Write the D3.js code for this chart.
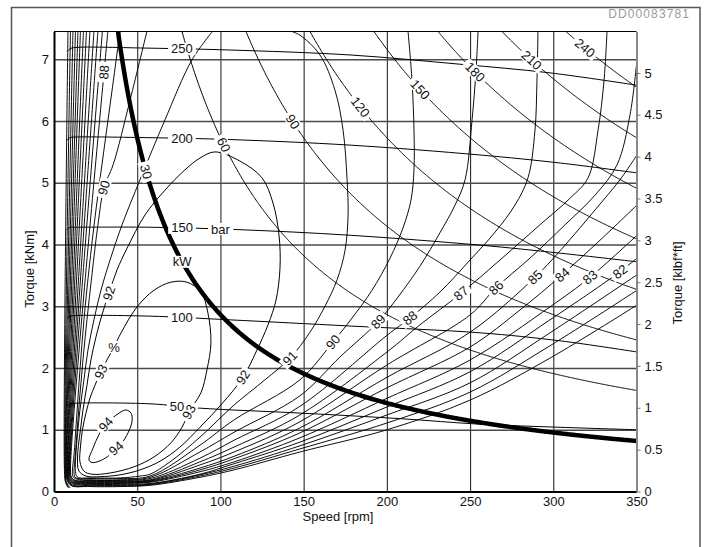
<!DOCTYPE html>
<html>
<head>
<meta charset="utf-8">
<script src="https://cdn.jsdelivr.net/npm/d3@7"></script>
<style>
  html, body { margin: 0; padding: 0; background: #fff; }
  svg { display: block; font-family: "Liberation Sans", Arial, Helvetica, sans-serif; }
</style>
</head>
<body>
<svg id="chart" width="706" height="547"></svg>
<script>
// ---- axis values ----
const speedTicks = [0, 50, 100, 150, 200, 250, 300, 350];          // rpm
const torqueTicks = [0, 1, 2, 3, 4, 5, 6, 7];                       // kNm
const torqueImpTicks = [0, 0.5, 1, 1.5, 2, 2.5, 3, 3.5, 4, 4.5, 5]; // klbf*ft
const KNM_PER_KLBFFT = 1.35582;

// ---- output power (kW) iso-lines and the speed where each is labelled ----
const powerLevels = [30, 60, 90, 120, 150, 180, 210, 240];
const powerLabelSpeed = [55.3, 102, 143.5, 184, 220, 253, 287, 319];

// ---- pressure (bar) lines, [rpm, kNm] ----
const bar250 = [[7.8,7.12],[9.6,7.17],[12.6,7.19],[57.7,7.18],[105.8,7.15],[177.9,7.07],[244.0,6.92],[298.0,6.78],[350.3,6.58]];
const bar200 = [[7.8,5.69],[9.6,5.73],[12.6,5.74],[57.7,5.73],[105.8,5.70],[177.9,5.61],[256.0,5.45],[304.1,5.32],[350.3,5.16]];
const bar150 = [[7.8,4.24],[9.6,4.28],[12.6,4.28],[57.7,4.28],[111.8,4.24],[177.9,4.15],[256.0,3.99],[304.1,3.86],[350.3,3.72]];
const bar100 = [[7.8,2.81],[9.6,2.84],[12.6,2.85],[57.7,2.84],[105.8,2.78],[177.9,2.68],[256.0,2.57],[304.1,2.44],[350.3,2.26]];
const bar50  = [[7.8,1.38],[9.6,1.42],[12.6,1.43],[57.7,1.42],[87.7,1.35],[147.8,1.27],[207.9,1.18],[256.0,1.09],[304.1,1.04],[350.3,1.00]];

// ---- overall efficiency (%) contours, [rpm, kNm] ----
const eta76 = [[8.4,7.46],[6.3,0.32],[6.9,0.15],[8.4,0.065]];
const eta77 = [[9.9,7.46],[6.6,0.32],[7.2,0.15],[9.0,0.06]];
const eta78 = [[11.4,7.46],[6.9,0.32],[7.5,0.15],[9.6,0.06]];
const eta79 = [[12.9,7.46],[7.2,0.35],[7.8,0.19],[10.2,0.10],[21.6,0.08],[39.7,0.08],[57.7,0.10],[87.7,0.23],[108.2,0.35],[147.8,0.64],[200.1,1.00],[250.0,1.48],[298.0,2.16],[350.3,3.02]];
const eta80 = [[14.4,7.46],[7.5,0.35],[8.1,0.19],[10.8,0.09],[21.6,0.09],[39.7,0.09],[57.7,0.11],[87.7,0.25],[108.2,0.38],[147.8,0.69],[200.1,1.11],[250.0,1.61],[298.0,2.36],[350.3,3.26]];
const eta81 = [[15.9,7.46],[7.8,0.35],[8.4,0.19],[11.1,0.105],[21.6,0.10],[39.7,0.10],[57.7,0.12],[87.7,0.27],[108.2,0.41],[147.8,0.74],[200.1,1.24],[250.0,1.76],[298.0,2.57],[350.3,3.51]];
const eta82 = [[17.7,7.46],[8.1,0.35],[8.7,0.19],[11.4,0.12],[21.6,0.115],[39.7,0.115],[57.7,0.13],[87.7,0.28],[108.2,0.45],[147.8,0.80],[200.1,1.37],[250.0,1.94],[298.0,2.78],[340.1,3.56],[350.3,3.78]];
const eta83 = [[19.5,7.46],[8.4,0.35],[9.0,0.20],[11.7,0.13],[21.6,0.13],[39.7,0.13],[57.7,0.15],[87.7,0.32],[108.2,0.48],[147.8,0.87],[200.1,1.51],[250.0,2.13],[298.0,2.99],[322.1,3.47],[350.3,4.15]];
const eta84 = [[21.6,7.46],[8.7,0.35],[9.3,0.20],[12.0,0.14],[21.6,0.14],[39.7,0.14],[57.7,0.16],[87.7,0.35],[108.2,0.53],[147.8,0.95],[200.1,1.68],[250.0,2.34],[280.0,2.94],[305.3,3.51],[328.1,4.07],[350.3,4.64]];
const eta85 = [[24.0,7.46],[9.0,0.35],[9.6,0.21],[12.3,0.15],[21.6,0.15],[39.7,0.15],[57.7,0.17],[87.7,0.38],[108.2,0.57],[147.8,1.03],[200.1,1.85],[250.0,2.58],[289.0,3.47],[307.1,3.99],[325.1,4.56],[340.1,5.05],[350.3,5.45]];
const eta86 = [[26.4,7.46],[9.3,0.35],[9.9,0.22],[12.6,0.16],[21.6,0.16],[39.7,0.16],[57.7,0.18],[87.7,0.43],[108.2,0.64],[147.8,1.13],[200.1,2.05],[250.0,2.86],[265.6,3.30],[286.0,3.78],[307.1,4.32],[325.1,4.80],[338.3,5.29],[346.1,6.10],[350.3,6.99]];
const eta87 = [[29.1,7.46],[9.6,0.35],[10.2,0.23],[12.9,0.17],[21.6,0.17],[39.7,0.17],[57.7,0.19],[87.7,0.48],[108.2,0.72],[147.8,1.24],[200.1,2.26],[219.9,2.70],[244.6,3.21],[268.0,3.75],[292.0,4.32],[310.1,4.75],[320.9,5.08],[326.9,5.85],[330.5,6.66],[332.3,7.46]];
const eta88 = [[32.4,7.46],[9.9,0.35],[10.5,0.23],[13.2,0.18],[21.6,0.18],[39.7,0.18],[57.7,0.21],[87.7,0.54],[108.2,0.83],[147.8,1.38],[200.1,2.53],[213.9,2.81],[231.9,3.23],[250.0,3.75],[265.0,4.20],[277.0,4.64],[284.8,5.08],[289.0,5.85],[290.2,6.66],[290.8,7.46]];
const eta89 = [[39.7,7.46],[34.9,6.50],[30.0,5.53],[25.2,4.56],[21.0,3.59],[18.0,2.78],[15.6,1.97],[13.5,1.16],[12.0,0.59],[11.1,0.35],[11.4,0.24],[13.8,0.20],[21.6,0.19],[39.7,0.19],[57.7,0.23],[87.7,0.64],[108.2,0.96],[147.8,1.55],[171.9,2.18],[194.7,2.75],[206.7,3.15],[219.9,3.65],[231.9,4.19],[241.0,4.64],[247.0,5.05],[251.2,6.02],[253.6,6.83],[254.8,7.46]];
const eta90 = [[55.9,7.46],[45.7,6.34],[35.5,5.29],[30.0,4.92],[26.4,4.32],[22.8,3.51],[19.8,2.78],[17.4,2.13],[15.3,1.48],[13.5,0.83],[12.3,0.43],[12.0,0.32],[12.6,0.23],[14.4,0.21],[21.6,0.21],[39.7,0.21],[57.7,0.25],[87.7,0.75],[108.2,1.16],[147.8,1.81],[167.6,2.42],[179.1,2.81],[191.1,3.26],[201.9,3.78],[209.7,4.27],[214.5,4.72],[216.3,5.21],[216.3,5.85],[215.1,6.66],[212.7,7.46]];
const eta91 = [[95.5,7.46],[82.9,6.99],[66.7,6.02],[51.7,5.05],[40.9,4.32],[33.7,3.75],[28.2,3.26],[24.0,2.78],[20.4,2.29],[18.0,1.81],[15.6,1.32],[13.8,0.83],[12.9,0.48],[12.9,0.32],[13.8,0.24],[15.6,0.22],[21.6,0.22],[39.7,0.22],[51.7,0.25],[57.7,0.28],[69.7,0.48],[87.7,0.88],[108.2,1.40],[126.8,1.81],[141.8,2.16],[153.8,2.58],[162.8,3.00],[170.1,3.43],[174.9,3.91],[176.7,4.48],[176.1,5.05],[173.7,5.85],[168.8,6.50],[159.8,7.07],[147.8,7.39],[141.8,7.46]];
// closed islands
const eta92 = [[96.7,5.50],[111.8,5.35],[125.0,5.08],[131.6,4.67],[135.2,4.15],[135.8,3.62],[133.4,3.10],[128.6,2.70],[121.4,2.26],[113.6,1.85],[100.9,1.42],[87.7,1.04],[75.7,0.72],[63.7,0.49],[51.7,0.35],[39.7,0.27],[27.6,0.24],[19.2,0.25],[15.0,0.33],[14.1,0.51],[14.7,0.75],[15.9,1.00],[17.4,1.32],[19.8,1.72],[22.2,2.13],[25.2,2.50],[28.8,2.86],[33.0,3.21],[37.9,3.59],[43.9,3.94],[54.7,4.48],[66.7,4.88],[78.7,5.21],[87.7,5.40]];
const eta93 = [[28.2,1.94],[31.8,2.13],[36.1,2.34],[40.3,2.57],[49.9,2.99],[60.1,3.26],[70.3,3.39],[79.9,3.39],[88.3,3.23],[92.5,2.89],[94.3,2.41],[91.9,1.97],[88.3,1.60],[81.1,1.29],[76.9,1.04],[70.3,0.79],[60.1,0.56],[48.1,0.40],[33.7,0.30],[22.8,0.28],[18.0,0.33],[15.6,0.48],[15.9,0.72],[17.1,1.00],[19.2,1.27],[21.6,1.51],[24.6,1.72]];
const eta94 = [[21.0,0.51],[23.4,0.70],[27.0,0.92],[31.2,1.09],[39.1,1.27],[43.3,1.32],[46.3,1.27],[46.9,1.14],[44.5,0.95],[40.3,0.77],[37.3,0.70],[32.4,0.57],[27.0,0.49],[22.8,0.47]];

const openContours = [eta76, eta77, eta78, eta79, eta80, eta81, eta82, eta83, eta84, eta85, eta86, eta87, eta88, eta89, eta90, eta91];
const closedContours = [eta92, eta93, eta94];
const pressureLines = [bar250, bar200, bar150, bar100, bar50];
const pressureLevels = [250, 200, 150, 100, 50];
const pressureLabelAt = [[76.9,7.18],[76.9,5.72],[76.9,4.27],[76.9,2.83],[73.9,1.37]];

// efficiency labels: text, contour, anchor [rpm, kNm]
const etaLabels = [
  ["88", eta88, [30.3,6.79]], ["90", eta90, [30.0,4.92]], ["92", eta92, [33.0,3.21]],
  ["93", eta93, [28.2,1.94]], ["94", eta94, [31.2,1.09]], ["94", eta94, [37.3,0.70]],
  ["93", eta93, [81.1,1.29]], ["92", eta92, [113.6,1.85]], ["91", eta91, [141.8,2.16]],
  ["90", eta90, [167.6,2.42]], ["89", eta89, [194.7,2.75]], ["88", eta88, [213.9,2.81]],
  ["87", eta87, [244.6,3.21]], ["86", eta86, [265.6,3.30]], ["85", eta85, [289.0,3.47]],
  ["84", eta84, [305.3,3.51]], ["83", eta83, [322.1,3.47]], ["82", eta82, [340.1,3.56]]
];
// unit labels
const unitLabels = [["bar", bar150, [100.0,4.27]], ["%", eta93, [36.1,2.34]]];

// ---- scales ----
const x = d3.scaleLinear().domain([0, 350]).range([54, 636.5]);
const y = d3.scaleLinear().domain([0, 7.45]).range([491.5, 31.5]);
const yImp = d3.scaleLinear().domain([0, 7.45 / KNM_PER_KLBFFT]).range([491.5, 31.5]);

const svg = d3.select("#chart");
const X0 = x(0), X1 = x(350), Y0 = y(0), Y1 = y(7.45);

// outer frame and drawing number
svg.append("rect").attr("x", 11.5).attr("y", 7.5).attr("width", 688.5).attr("height", 560)
  .attr("fill", "none").attr("stroke", "#555").attr("stroke-width", 1.5);
svg.append("text").attr("x", 690).attr("y", 17.5).attr("text-anchor", "end")
  .attr("font-size", 12).attr("letter-spacing", 1.1).attr("fill", "#9a9a9a").text("DD00083781");

svg.append("defs").append("clipPath").attr("id", "plotClip")
  .append("rect").attr("x", X0).attr("y", Y1).attr("width", X1 - X0).attr("height", Y0 - Y1);

// ---- grid ----
const gridV = svg.append("g").attr("transform", `translate(0,${Y0})`)
  .call(d3.axisBottom(x).tickValues(speedTicks.filter(d => d > 0 && d < 350)).tickSize(-(Y0 - Y1)).tickFormat(""));
gridV.select(".domain").remove();
gridV.selectAll("line").attr("stroke", "#2a2a2a").attr("stroke-width", 1.1);

const gridH = svg.append("g").attr("transform", `translate(${X0},0)`)
  .call(d3.axisLeft(y).tickValues(torqueTicks.filter(d => d > 0)).tickSize(-(X1 - X0)).tickFormat(""));
gridH.select(".domain").remove();
gridH.selectAll("line").attr("stroke", "#4a4a4a").attr("stroke-width", 1.5);

// ---- curves ----
const plot = svg.append("g").attr("clip-path", "url(#plotClip)");
const openLine = d3.line().x(d => x(d[0])).y(d => y(d[1])).curve(d3.curveCatmullRom.alpha(0.5));
const closedLine = d3.line().x(d => x(d[0])).y(d => y(d[1])).curve(d3.curveCatmullRomClosed.alpha(0.5));
const pathOf = new Map();

pressureLines.forEach(arr => {
  const p = plot.append("path").attr("d", openLine(arr)).attr("fill", "none")
    .attr("stroke", "#000").attr("stroke-width", 1);
  pathOf.set(arr, p.node());
});
openContours.forEach(arr => {
  const p = plot.append("path").attr("d", openLine(arr)).attr("fill", "none")
    .attr("stroke", "#000").attr("stroke-width", 0.95);
  pathOf.set(arr, p.node());
});
closedContours.forEach(arr => {
  const p = plot.append("path").attr("d", closedLine(arr)).attr("fill", "none")
    .attr("stroke", "#000").attr("stroke-width", 1);
  pathOf.set(arr, p.node());
});

// power iso-lines: torque = P * 60 / (2 * pi * n)
const torqueAt = (P, n) => P * 60 / (2 * Math.PI * n);
const powerPaths = [];
powerLevels.forEach((P, i) => {
  const nStart = P * 60 / (2 * Math.PI * 7.7);
  const pts = d3.range(nStart, 350.5, 0.5).map(n => [n, torqueAt(P, n)]);
  const p = plot.append("path").attr("d", d3.line().x(d => x(d[0])).y(d => y(d[1]))(pts))
    .attr("fill", "none").attr("stroke", "#000").attr("stroke-width", P === 30 ? 4.5 : 1);
  powerPaths.push(p.node());
});

// ---- labels sitting in gaps of their lines ----
const labelLayer = svg.append("g");
function labelOnPath(node, txt, px, py, upright) {
  const total = node.getTotalLength();
  let best = 0, bd = Infinity;
  for (let L = 0; L <= total; L += 1) {
    const p = node.getPointAtLength(L);
    const d = (p.x - px) ** 2 + (p.y - py) ** 2;
    if (d < bd) { bd = d; best = L; }
  }
  for (let L = Math.max(0, best - 1); L <= Math.min(total, best + 1); L += 0.1) {
    const p = node.getPointAtLength(L);
    const d = (p.x - px) ** 2 + (p.y - py) ** 2;
    if (d < bd) { bd = d; best = L; }
  }
  const c = node.getPointAtLength(best);
  let ang = 0;
  if (!upright) {
    const a = node.getPointAtLength(Math.max(0, best - 3));
    const b = node.getPointAtLength(Math.min(total, best + 3));
    ang = Math.atan2(b.y - a.y, b.x - a.x) * 180 / Math.PI;
    if (ang > 90) ang -= 180;
    if (ang < -90) ang += 180;
  }
  const g = labelLayer.append("g").attr("transform", `translate(${c.x},${c.y}) rotate(${ang})`);
  const r = g.append("rect").attr("fill", "#fff");
  const t = g.append("text").attr("text-anchor", "middle").attr("dy", "0.35em")
    .attr("font-size", 13).attr("fill", "#111").text(txt);
  const bb = t.node().getBBox();
  r.attr("x", bb.x - 3).attr("y", bb.y + 1.5).attr("width", bb.width + 6).attr("height", bb.height - 3);
}

pressureLines.forEach((arr, i) => {
  const a = pressureLabelAt[i];
  labelOnPath(pathOf.get(arr), String(pressureLevels[i]), x(a[0]), y(a[1]), true);
});
unitLabels.forEach(([txt, arr, a]) => labelOnPath(pathOf.get(arr), txt, x(a[0]), y(a[1]), true));
etaLabels.forEach(([txt, arr, a]) => labelOnPath(pathOf.get(arr), txt, x(a[0]), y(a[1]), false));
powerLevels.forEach((P, i) => {
  const n = powerLabelSpeed[i];
  labelOnPath(powerPaths[i], String(P), x(n), y(torqueAt(P, n)), false);
});
// unit of the power lines, on the 30 kW line
labelOnPath(powerPaths[0], "kW", x(77), y(torqueAt(30, 77)), true);

// ---- axes ----
const axBottom = svg.append("g").attr("transform", `translate(0,${Y0})`)
  .call(d3.axisBottom(x).tickValues(speedTicks).tickSize(0).tickPadding(5.5).tickSizeOuter(0));
axBottom.select(".domain").attr("stroke", "#000").attr("stroke-width", 2);
axBottom.selectAll("text").attr("font-size", 13).attr("fill", "#111").attr("font-family", null);

const axLeft = svg.append("g").attr("transform", `translate(${X0},0)`)
  .call(d3.axisLeft(y).tickValues(torqueTicks).tickSize(0).tickPadding(5).tickSizeOuter(0));
axLeft.select(".domain").attr("stroke", "#000").attr("stroke-width", 2);
axLeft.selectAll("text").attr("font-size", 13).attr("fill", "#111").attr("font-family", null);

const axRight = svg.append("g").attr("transform", `translate(${X1},0)`)
  .call(d3.axisRight(yImp).tickValues(torqueImpTicks).tickSize(4).tickPadding(4).tickSizeOuter(0)
    .tickFormat(d3.format("")));
axRight.select(".domain").attr("stroke", "#888").attr("stroke-width", 2);
axRight.selectAll("line").attr("stroke", "#777");
axRight.selectAll("text").attr("font-size", 13).attr("fill", "#111").attr("font-family", null);

// top edge of the plot
svg.append("line").attr("x1", X0).attr("x2", X1).attr("y1", Y1).attr("y2", Y1)
  .attr("stroke", "#000").attr("stroke-width", 1);

// axis titles
svg.append("text").attr("transform", "translate(34,269) rotate(-90)").attr("text-anchor", "middle")
  .attr("font-size", 13).attr("fill", "#111").text("Torque [kNm]");
svg.append("text").attr("transform", "translate(682,283) rotate(-90)").attr("text-anchor", "middle")
  .attr("font-size", 13).attr("fill", "#111").text("Torque [klbf*ft]");
svg.append("text").attr("x", 338).attr("y", 521).attr("text-anchor", "middle")
  .attr("font-size", 13).attr("fill", "#111").text("Speed [rpm]");
</script>
</body>
</html>
